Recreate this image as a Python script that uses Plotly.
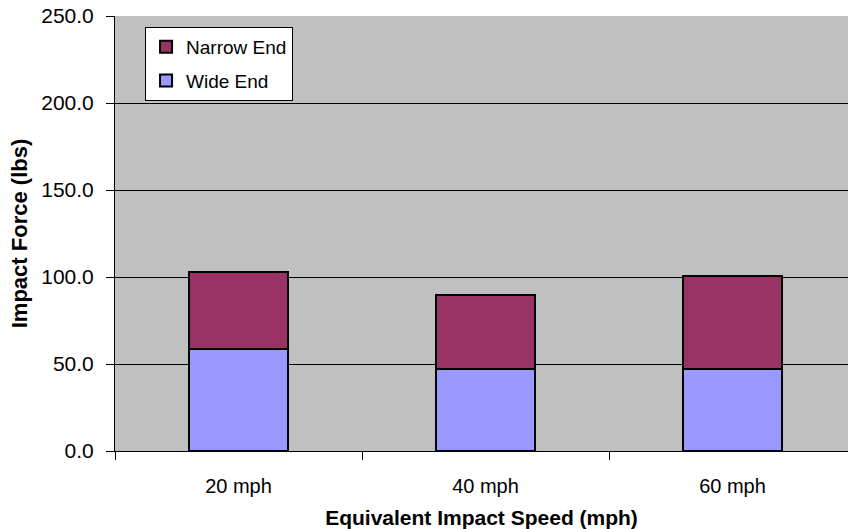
import plotly.graph_objects as go

categories = ["20 mph", "40 mph", "60 mph"]
wide_end = [58.4, 47.0, 47.0]
narrow_end = [44.6, 42.7, 53.6]
y_ticks = [0, 50, 100, 150, 200, 250]

fig = go.Figure()
fig.add_trace(go.Bar(
    x=categories, y=wide_end, name="Wide End",
    marker=dict(color="#9999FF", line=dict(color="#000000", width=2)),
    width=0.4, legendgroup="w", legendrank=2,
))
fig.add_trace(go.Bar(
    x=categories, y=narrow_end, name="Narrow End",
    marker=dict(color="#993366", line=dict(color="#000000", width=2)),
    width=0.4, legendgroup="n", legendrank=1,
))

fig.update_layout(
    width=848, height=529,
    margin=dict(l=115, r=0, t=16, b=78),
    barmode="stack",
    paper_bgcolor="white",
    plot_bgcolor="#C0C0C0",
    font=dict(family="Liberation Sans, Arial, sans-serif", size=20, color="#000000"),
    showlegend=True,
    legend=dict(
        x=0.041, y=0.975, xanchor="left", yanchor="top",
        bgcolor="white", bordercolor="#000000", borderwidth=1,
        traceorder="grouped", tracegroupgap=6,
        font=dict(size=19),
    ),
    xaxis=dict(
        type="category",
        range=[-0.5, 2.4676],
        showline=True, linecolor="#000000", linewidth=1,
        ticks="outside", ticklen=8, tickcolor="#000000",
        tickson="boundaries",
        ticklabelstandoff=17,
        showgrid=False,
        title=dict(text="<b>Equivalent Impact Speed (mph)</b>", font=dict(size=21), standoff=16),
    ),
    yaxis=dict(
        range=[0, 250],
        tickvals=y_ticks,
        tickformat=".1f",
        tickfont=dict(size=21),
        ticklabelstandoff=8,
        showline=True, linecolor="#000000", linewidth=1,
        ticks="outside", ticklen=8, tickcolor="#000000",
        showgrid=True, gridcolor="#000000", gridwidth=1,
        zeroline=False,
        title=dict(text="<b>Impact Force (lbs)</b>", font=dict(size=22), standoff=7),
    ),
)

fig.write_html(
    "out.html",
    config={"displayModeBar": False},
    post_script="document.body.style.margin='0';document.body.style.padding='0';",
)
